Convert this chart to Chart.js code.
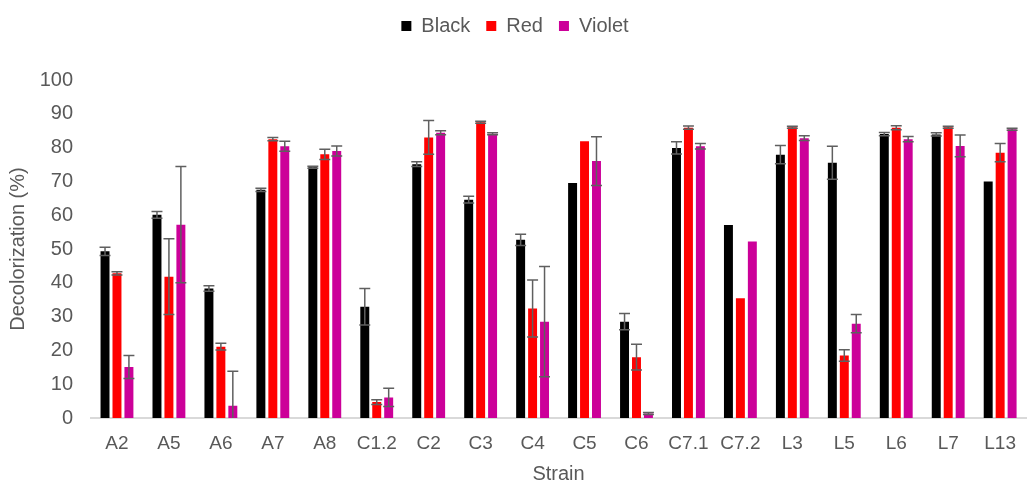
<!DOCTYPE html>
<html>
<head>
<meta charset="utf-8">
<script src="https://cdn.jsdelivr.net/npm/chart.js@4/dist/chart.umd.min.js"></script>
<style>
  html, body { margin: 0; padding: 0; background: #fff; }
  #wrap { width: 1030px; height: 484px; }
</style>
</head>
<body>
<div id="wrap"><canvas id="myChart" width="1030" height="484"></canvas></div>
<script>
// values
const strains = ['A2','A5','A6','A7','A8','C1.2','C2','C3','C4','C5','C6','C7.1','C7.2','L3','L5','L6','L7','L13'];

const black  = [49.3, 60.1, 38.3, 67.5, 74.2, 32.9, 75.1, 64.6, 52.7, 69.5, 28.5, 79.9, 57.1, 77.9, 75.5, 84.0, 83.9, 70.0];
const red    = [42.8, 41.8, 21.1, 82.5, 78.0, 4.7, 83.0, 87.5, 32.4, 81.9, 18.0, 85.9, 35.4, 86.0, 18.5, 85.9, 86.0, 78.5];
const violet = [15.1, 57.2, 3.6, 80.4, 79.0, 6.1, 84.4, 84.1, 28.5, 76.0, 1.3, 80.4, 52.2, 82.8, 27.9, 82.5, 80.5, 85.4];

// +/- error for each bar
const blackErr  = [1.2, 1.0, 0.8, 0.5, 0.3, 5.4, 0.7, 1.0, 1.7, 0, 2.4, 1.8, 0, 2.7, 4.9, 0.5, 0.5, 0];
const redErr    = [0.5, 11.2, 1.0, 0.5, 1.5, 0.7, 5.0, 0.3, 8.4, 0, 3.8, 0.5, 0, 0.3, 1.7, 0.6, 0.3, 2.7];
const violetErr = [3.4, 17.2, 10.2, 1.5, 1.5, 2.7, 0.6, 0.3, 16.3, 7.2, 0.3, 0.8, 0, 0.7, 2.7, 0.8, 3.2, 0.3];

const yMin = 0, yMax = 100, yStep = 10;

const textColor = '#595959';
const fontFamily = "'Liberation Sans', Arial, sans-serif";

// error bars drawn through the y scale
const errorBars = {
  id: 'errorBars',
  afterDatasetsDraw(chart) {
    const { ctx, chartArea } = chart;
    const yScale = chart.scales.y;
    ctx.save();
    ctx.beginPath();
    ctx.rect(chartArea.left, chartArea.top, chartArea.right - chartArea.left, chartArea.bottom - chartArea.top);
    ctx.clip();
    ctx.strokeStyle = '#5f5f5f';
    ctx.lineWidth = 1.5;
    chart.data.datasets.forEach((ds, di) => {
      const meta = chart.getDatasetMeta(di);
      meta.data.forEach((bar, i) => {
        const v = ds.data[i];
        const e = ds.errors[i];
        if (!e) return;
        const x = bar.x;
        const half = bar.width / 2 + 1;
        const lo = v - e;
        const yTop = yScale.getPixelForValue(v + e);
        const yBot = yScale.getPixelForValue(Math.max(lo, yMin));
        ctx.beginPath();
        ctx.moveTo(x, yTop);
        ctx.lineTo(x, yBot);
        ctx.moveTo(x - half, yTop);
        ctx.lineTo(x + half, yTop);
        if (lo >= yMin) {
          ctx.moveTo(x - half, yBot);
          ctx.lineTo(x + half, yBot);
        }
        ctx.stroke();
      });
    });
    ctx.restore();
  }
};

// extra room under the legend
const legendGap = {
  id: 'legendGap',
  beforeInit(chart) {
    const fit = chart.legend.fit;
    chart.legend.fit = function () {
      fit.call(this);
      this.height += 34;
    };
  }
};

const ctx = document.getElementById('myChart');
new Chart(ctx, {
  type: 'bar',
  data: {
    labels: strains,
    datasets: [
      { label: 'Black',  data: black,  errors: blackErr,  backgroundColor: '#000000' },
      { label: 'Red',    data: red,    errors: redErr,    backgroundColor: '#FF0000' },
      { label: 'Violet', data: violet, errors: violetErr, backgroundColor: '#CC0099' }
    ]
  },
  options: {
    responsive: false,
    animation: false,
    categoryPercentage: 0.69,
    barPercentage: 0.75,
    layout: { padding: { top: 0, right: 0, bottom: 0, left: 0 } },
    scales: {
      y: {
        min: yMin,
        max: yMax,
        grid: { display: false, drawTicks: false },
        border: { display: false },
        ticks: { stepSize: yStep, padding: 18, color: textColor, font: { family: fontFamily, size: 20 } },
        title: {
          display: true, text: 'Decolorization (%)', color: textColor,
          font: { family: fontFamily, size: 20 }, padding: { top: 6, bottom: 0 }
        },
        afterFit(scale) { scale.width = 91; }
      },
      x: {
        grid: { display: false, drawTicks: false },
        border: { display: true, color: '#d9d9d9', width: 2 },
        ticks: { padding: 14, color: textColor, font: { family: fontFamily, size: 19 }, maxRotation: 0, autoSkip: false },
        title: {
          display: true, text: 'Strain', color: textColor,
          font: { family: fontFamily, size: 20, lineHeight: 1 }, padding: { top: 0, bottom: 0 }
        },
        afterFit(scale) { scale.height = 66; }
      }
    },
    plugins: {
      legend: {
        position: 'top',
        labels: {
          boxWidth: 10, boxHeight: 10, padding: 16,
          color: textColor, font: { family: fontFamily, size: 20 }
        }
      },
      tooltip: { enabled: false }
    }
  },
  plugins: [errorBars, legendGap]
});
</script>
</body>
</html>
